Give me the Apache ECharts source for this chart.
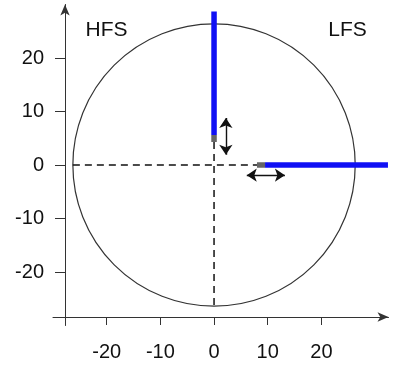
<!DOCTYPE html>
<html>
<head>
<meta charset="utf-8">
<script src="https://cdn.jsdelivr.net/npm/echarts@6/dist/echarts.min.js"></script>
<style>
  html, body { margin: 0; padding: 0; background: #fff; }
  #main { width: 394px; height: 368px; }
</style>
</head>
<body>
<div id="main"></div>
<script>
// tick labels
var xTicks = [-20, -10, 0, 10, 20];
var yTicks = [-20, -10, 0, 10, 20];

// circle [cx, cy, r]
var circle = [[0, 0, 26.3]];

// blue rods and their grey tips
var rodV = [[0, 28.7], [0, 5.6]];
var tipV = [[0, 5.6], [0, 4.3]];
var rodH = [[9.5, 0], [32.4, 0]];
var tipH = [[8, 0], [9.5, 0]];

// dashed guide lines
var dashH = [[-26.3, 0], [8, 0]];
var dashV = [[0, 4.3], [0, -26.3]];

// double arrows
var arrowV = [[2.2, 8.8], [2.2, 1.9]];
var arrowH = [[6.1, -1.9], [13.2, -1.9]];

var font = 'Liberation Sans, Arial, sans-serif';
var blue = '#1010f4';
var grey = '#666';

var chartDom = document.getElementById('main');
var myChart = echarts.init(chartDom, null, { renderer: 'canvas' });

function seg(data, color, width, type) {
  return {
    type: 'line',
    data: data,
    symbol: 'none',
    silent: true,
    lineStyle: { color: color, width: width, type: type || 'solid', cap: 'butt' },
    z: 3
  };
}

var option = {
  animation: false,
  grid: {
    left: 53,
    right: 5.5,
    top: 4.5,
    bottom: 42.5,
    outerBoundsMode: 'none'
  },
  xAxis: {
    type: 'value',
    min: -30,
    max: 32.5,
    offset: -8.5,
    splitLine: { show: false },
    axisLine: {
      onZero: false,
      symbol: ['none', 'arrow'],
      symbolSize: [7, 11],
      lineStyle: { color: '#333', width: 1 }
    },
    axisTick: { customValues: xTicks, length: 8, lineStyle: { color: '#333' } },
    axisLabel: {
      customValues: xTicks,
      margin: 25,
      fontSize: 20,
      fontFamily: font,
      color: '#111'
    }
  },
  yAxis: {
    type: 'value',
    min: -30,
    max: 30,
    offset: -12,
    splitLine: { show: false },
    axisLine: {
      onZero: false,
      symbol: ['none', 'arrow'],
      symbolSize: [7, 11],
      lineStyle: { color: '#333', width: 1 }
    },
    axisTick: { customValues: yTicks, length: 10, lineStyle: { color: '#333' } },
    axisLabel: {
      customValues: yTicks,
      margin: 21,
      fontSize: 20,
      fontFamily: font,
      color: '#111'
    }
  },
  graphic: [
    { type: 'text', x: 106.5, y: 30, style: { text: 'HFS', font: '21px ' + font, fill: '#111', align: 'center', verticalAlign: 'middle' } },
    { type: 'text', x: 347.5, y: 30, style: { text: 'LFS', font: '21px ' + font, fill: '#111', align: 'center', verticalAlign: 'middle' } }
  ],
  series: [
    {
      type: 'custom',
      data: circle,
      clip: false,
      silent: true,
      z: 2,
      renderItem: function (params, api) {
        var c = api.coord([api.value(0), api.value(1)]);
        var e = api.coord([api.value(0) + api.value(2), api.value(1)]);
        return {
          type: 'circle',
          shape: { cx: c[0], cy: c[1], r: e[0] - c[0] },
          style: { fill: 'none', stroke: '#333', lineWidth: 1.2 }
        };
      }
    },
    seg(dashH, '#111', 1.5, [7, 5]),
    seg(dashV, '#111', 1.5, [7, 5]),
    seg(rodV, blue, 5.5),
    seg(tipV, grey, 5.5),
    seg(rodH, blue, 5.5),
    seg(tipH, grey, 5.5),
    {
      type: 'lines',
      coordinateSystem: 'cartesian2d',
      silent: true,
      symbol: ['arrow', 'arrow'],
      symbolSize: 10,
      lineStyle: { color: '#111', width: 1.4, opacity: 1 },
      data: [{ coords: arrowV }, { coords: arrowH }],
      z: 4
    }
  ]
};

option && myChart.setOption(option);
</script>
</body>
</html>
